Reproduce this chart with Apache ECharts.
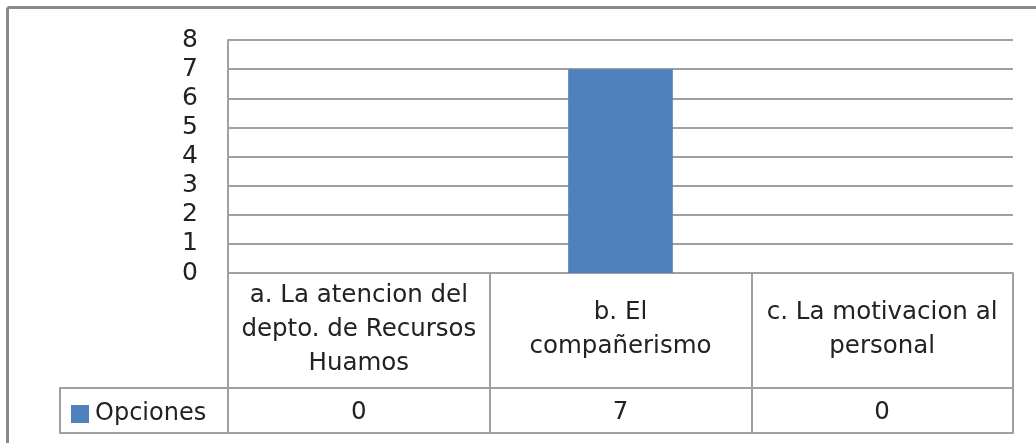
<!DOCTYPE html>
<html>
<head>
<meta charset="utf-8">
<script src="https://cdn.jsdelivr.net/npm/echarts@6/dist/echarts.min.js"></script>
<style>
html,body{margin:0;padding:0;background:#fff;}
#chart{width:1036px;height:443px;}
</style>
</head>
<body>
<div id="chart"></div>
<script>
const categories = ['a. La atencion del\ndepto. de Recursos\nHuamos', 'b. El\ncompañerismo', 'c. La motivacion al\npersonal'];
const seriesName = 'Opciones';
const values = [0, 7, 0];
const yTicks = [0, 1, 2, 3, 4, 5, 6, 7, 8];

const FONT = 'DejaVu Sans';
const TXT = '#222222';
const LINE = '#a0a0a0';

const chart = echarts.init(document.getElementById('chart'), null, {renderer: 'canvas'});
chart.setOption({
  animation: false,
  backgroundColor: '#fff',
  grid: {left: 228, right: 23, top: 40, bottom: 170, containLabel: false},
  legend: {
    show: true,
    data: [seriesName],
    left: 66, top: 397,
    icon: 'rect',
    itemWidth: 18, itemHeight: 18,
    itemGap: 0,
    textStyle: {fontFamily: FONT, fontSize: 24, color: TXT, padding: [0,0,0,1]},
    selectedMode: false
  },
  xAxis: [
    {
      type: 'category',
      data: categories,
      position: 'bottom',
      axisLine: {show: true, lineStyle: {color: LINE, width: 2}},
      axisTick: {show: true, length: 160, lineStyle: {color: LINE, width: 2}},
      axisLabel: {
        interval: 0, margin: 57, verticalAlign: 'middle',
        fontFamily: FONT, fontSize: 24.5, lineHeight: 34, color: TXT, align: 'center'
      },
      splitLine: {show: false}
    },
    {
      type: 'category',
      data: categories,
      position: 'bottom',
      offset: 115,
      axisLine: {show: true, lineStyle: {color: LINE, width: 2}},
      axisTick: {show: false},
      axisLabel: {
        interval: 0, margin: 25, verticalAlign: 'middle',
        fontFamily: FONT, fontSize: 24.5, color: TXT,
        formatter: function (v, i) { return String(values[i]); }
      }
    },
    {
      type: 'category',
      data: categories,
      position: 'bottom',
      offset: 160,
      axisLine: {show: true, lineStyle: {color: LINE, width: 2}},
      axisTick: {show: false},
      axisLabel: {show: false}
    }
  ],
  yAxis: {
    type: 'value',
    min: yTicks[0], max: yTicks[yTicks.length - 1], interval: 1,
    axisLine: {show: true, lineStyle: {color: LINE, width: 2}},
    axisTick: {show: false},
    axisLabel: {fontFamily: FONT, fontSize: 25, color: TXT, margin: 30},
    splitLine: {show: true, lineStyle: {color: LINE, width: 2}}
  },
  series: [{
    name: seriesName,
    type: 'bar',
    xAxisIndex: 0,
    data: values,
    barWidth: '40%',
    itemStyle: {color: '#4F81BD'}
  }],
  graphic: [
    {type: 'line', silent: true, shape: {x1: 7.5, y1: 7.5, x2: 1036, y2: 7.5}, style: {stroke: '#8a8a8a', lineWidth: 3}},
    {type: 'line', silent: true, shape: {x1: 7.5, y1: 7.5, x2: 7.5, y2: 443}, style: {stroke: '#8a8a8a', lineWidth: 3}},
    {type: 'line', silent: true, shape: {x1: 60, y1: 388, x2: 229, y2: 388}, style: {stroke: LINE, lineWidth: 2}},
    {type: 'line', silent: true, shape: {x1: 60, y1: 433, x2: 229, y2: 433}, style: {stroke: LINE, lineWidth: 2}},
    {type: 'line', silent: true, shape: {x1: 60, y1: 387, x2: 60, y2: 434}, style: {stroke: LINE, lineWidth: 2}}
  ]
});
</script>
</body>
</html>
